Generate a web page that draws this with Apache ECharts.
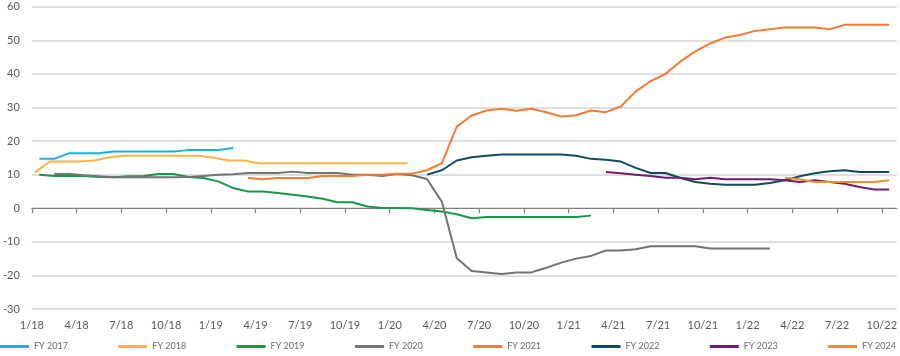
<!DOCTYPE html>
<html><head><meta charset="utf-8">
<script src="https://cdn.jsdelivr.net/npm/echarts@6/dist/echarts.min.js"></script>
<style>html,body{margin:0;padding:0;background:#fff}#c{width:900px;height:356px}</style>
</head><body><div id="c"></div>
<script>
// x positions are months since Jan 2018; each series is monthly from its start month
const seriesNames = ['FY 2017','FY 2018','FY 2019','FY 2020','FY 2021','FY 2022','FY 2023','FY 2024'];
const seriesColors = ['#1BB1DC','#F7B446','#14994A','#737373','#F47B35','#0F4D5E','#6E1E6E','#E89030'];
const seriesStarts = [0.5, 0.2, 0.5, 1.5, 14.5, 26.5, 38.5, 50.5];

const fy2017 = [14.7,14.7,16.4,16.4,16.4,16.9,16.9,16.9,16.9,16.9,17.3,17.3,17.3,17.9];
const fy2018 = [10.6,13.9,13.9,13.9,14.2,15.2,15.6,15.6,15.6,15.6,15.6,15.6,15.0,14.2,14.2,13.4,
                13.4,13.4,13.4,13.4,13.4,13.4,13.4,13.4,13.4,13.4];
const fy2019 = [10.0,9.6,9.6,9.6,9.3,9.2,9.5,9.6,10.2,10.2,9.3,9.0,8.0,6.0,5.0,5.0,4.5,4.0,3.5,2.8,
                1.8,1.8,0.5,0.1,0.1,0.0,-0.5,-1.0,-1.8,-3.0,-2.6,-2.6,-2.6,-2.6,-2.6,-2.6,-2.6,-2.2];
const fy2020 = [10.2,10.2,9.8,9.5,9.2,9.2,9.2,9.2,9.2,9.3,
                9.6,10.0,10.1,10.5,10.5,10.5,10.9,10.5,10.5,10.5,
                10.0,10.0,9.6,10.2,9.8,8.7,1.9,-14.9,-18.7,-19.1,
                -19.6,-19.1,-19.1,-17.7,-16.2,-15.0,-14.2,-12.6,-12.6,-12.2,
                -11.3,-11.3,-11.3,-11.3,-12.0,-12.0,-12.0,-12.0,-12.0];
const fy2021 = [9.0,8.6,9.0,9.0,9.0,9.6,9.6,9.6,10.0,10.0,
                10.3,10.3,11.3,13.4,24.3,27.6,29.1,29.6,29.0,29.6,
                28.6,27.3,27.7,29.1,28.6,30.3,34.8,37.8,40.0,43.7,
                46.7,49.1,50.8,51.6,52.8,53.3,53.8,53.8,53.8,53.3,
                54.6,54.6,54.6,54.6];
const fy2022 = [10.0,11.3,14.2,15.2,15.6,16.0,16.0,16.0,16.0,16.0,
                15.6,14.7,14.4,13.9,12.0,10.5,10.5,9.0,7.8,7.3,
                7.0,7.0,7.0,7.5,8.3,9.5,10.4,11.0,11.3,10.8,
                10.8,10.8];
const fy2023 = [10.8,10.4,10.0,9.6,9.1,9.1,8.6,9.1,8.6,8.6,8.6,8.6,8.3,7.8,8.3,7.8,7.3,6.3,5.6,5.6];
const fy2024 = [9.1,8.6,7.8,7.8,7.8,7.8,7.8,8.3];

const xTickLabels = ['1/18','4/18','7/18','10/18','1/19','4/19','7/19','10/19','1/20','4/20',
                     '7/20','10/20','1/21','4/21','7/21','10/21','1/22','4/22','7/22','10/22'];
const xTickStep = 3;
const xMin = 0, xMax = 58;
const yMin = -30, yMax = 60, yStep = 10;

const allValues = [fy2017, fy2018, fy2019, fy2020, fy2021, fy2022, fy2023, fy2024];
const tickPositions = xTickLabels.map((_, i) => i * xTickStep);
const FONT = 'Lato, "Open Sans", sans-serif';

const series = allValues.map((vals, k) => ({
  name: seriesNames[k],
  type: 'line',
  xAxisIndex: 0,
  yAxisIndex: 0,
  data: vals.map((v, i) => [seriesStarts[k] + i, v]),
  showSymbol: false,
  symbol: 'none',
  smooth: false,
  lineStyle: { width: 2, color: seriesColors[k] },
  itemStyle: { color: seriesColors[k] },
  emphasis: { disabled: true },
  animation: false
}));

const legends = seriesNames.map((n, k) => ({
  data: [n],
  left: 0 + k * 118.3,
  top: 342,
  icon: 'rect',
  itemWidth: 29,
  itemHeight: 3,
  itemGap: 0,
  padding: 0,
  textStyle: { color: '#6b6b6b', fontSize: 9, fontFamily: FONT },
  selectedMode: false
}));

const chart = echarts.init(document.getElementById('c'), null, { renderer: 'canvas' });
chart.setOption({
  animation: false,
  color: seriesColors,
  grid: { left: 31.3, right: 3.3, top: 6.7, bottom: 47 },
  legend: legends,
  xAxis: [
    {
      type: 'value', min: xMin, max: xMax, interval: xTickStep,
      position: 'bottom',
      axisLine: { show: true, onZero: true, lineStyle: { color: '#7f7f7f', width: 1.2 } },
      axisTick: { show: true, length: 5, customValues: tickPositions, lineStyle: { color: '#7f7f7f', width: 1.2 } },
      axisLabel: { show: false },
      splitLine: { show: false }
    },
    {
      type: 'value', min: xMin, max: xMax, interval: xTickStep,
      position: 'bottom',
      axisLine: { show: false, onZero: false },
      axisTick: { show: false },
      axisLabel: {
        show: true, margin: 11, color: '#595959', fontSize: 11, fontFamily: FONT,
        customValues: tickPositions,
        formatter: v => (Math.abs(v % xTickStep) < 1e-6 ? (xTickLabels[Math.round(v / xTickStep)] || '') : '')
      },
      splitLine: { show: false }
    }
  ],
  yAxis: {
    type: 'value', min: yMin, max: yMax, interval: yStep,
    axisLine: { show: false },
    axisTick: { show: false },
    axisLabel: { margin: 12, color: '#595959', fontSize: 11, fontFamily: FONT },
    splitLine: { show: true, lineStyle: { color: '#d4d4d4', width: 1.5 } }
  },
  series: series
});
</script>
</body></html>
